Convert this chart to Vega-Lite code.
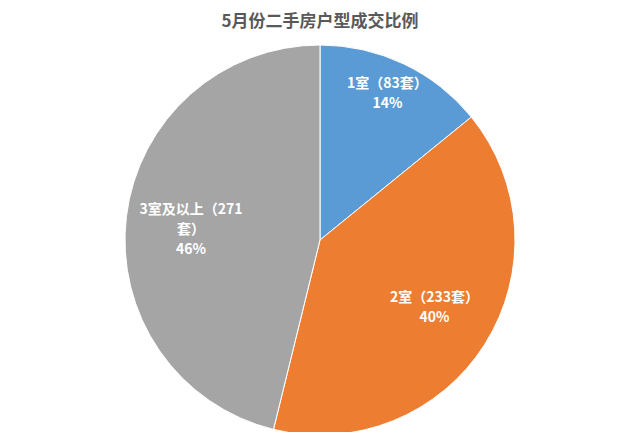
{
  "$schema": "https://vega.github.io/schema/vega-lite/v6.json",
  "width": 640,
  "height": 384,
  "autosize": "none",
  "padding": {"left": 0, "right": 0, "top": 48, "bottom": 0},
  "background": "white",
  "title": {
    "text": "5月份二手房户型成交比例",
    "anchor": "middle",
    "font": "Noto Sans CJK SC",
    "fontSize": 17,
    "fontWeight": "bold",
    "color": "#595959",
    "offset": 12
  },
  "data": {
    "values": [
      {"type": "1室", "count": 83, "label": "1室（83套）\n14%"},
      {"type": "2室", "count": 233, "label": "2室（233套）\n40%"},
      {"type": "3室及以上", "count": 271, "label": "3室及以上（271\n套）\n46%"}
    ]
  },
  "encoding": {
    "theta": {"field": "count", "type": "quantitative", "stack": true},
    "order": {"field": "type", "type": "nominal", "sort": "ascending"},
    "color": {
      "field": "type",
      "type": "nominal",
      "scale": {"domain": ["1室", "2室", "3室及以上"], "range": ["#5B9BD5", "#ED7D31", "#A5A5A5"]},
      "legend": null
    }
  },
  "layer": [
    {"mark": {"type": "arc", "radius": 195, "stroke": "white", "strokeWidth": 1}},
    {
      "mark": {
        "type": "text",
        "dy": -14,
        "lineBreak": "\n",
        "lineHeight": 20,
        "font": "Noto Sans CJK SC",
        "fontSize": 14,
        "fontWeight": "bold",
        "fill": "white"
      },
      "encoding": {
        "radius": {
          "field": "count",
          "type": "quantitative",
          "scale": {"type": "linear", "domain": [83, 271], "range": [157, 130], "zero": false}
        },
        "text": {"field": "label", "type": "nominal"},
        "color": {"value": "white"}
      }
    }
  ]
}
